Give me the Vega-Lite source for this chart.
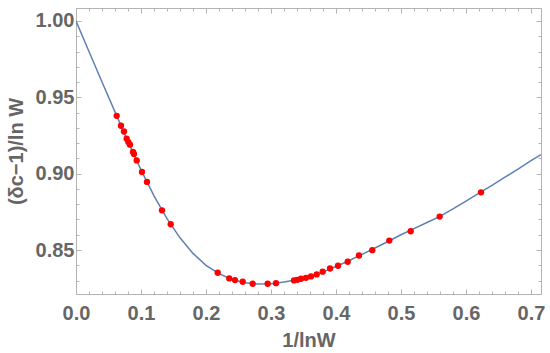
{
  "$schema": "https://vega.github.io/schema/vega-lite/v6.json",
  "width": 465,
  "height": 286,
  "autosize": {"type": "none"},
  "padding": {"left": 76, "top": 8, "right": 9, "bottom": 59},
  "background": "white",
  "config": {
    "view": {"stroke": null},
    "axis": {
      "labelFont": "Liberation Sans",
      "labelFontWeight": "bold",
      "labelFontSize": 20,
      "labelColor": "#666666",
      "titleFont": "Liberation Sans",
      "titleFontWeight": "bold",
      "titleFontSize": 20,
      "titleColor": "#666666",
      "domainColor": "#b4b4b4",
      "tickColor": "#b4b4b4",
      "grid": false
    }
  },
  "datasets": {
    "curve": [
      {"x": 0.0, "y": 1.0},
      {"x": 0.02, "y": 0.98},
      {"x": 0.04, "y": 0.96},
      {"x": 0.06, "y": 0.9405},
      {"x": 0.08, "y": 0.921},
      {"x": 0.1, "y": 0.9025},
      {"x": 0.12, "y": 0.8855},
      {"x": 0.14, "y": 0.8705},
      {"x": 0.16, "y": 0.858},
      {"x": 0.18, "y": 0.8478},
      {"x": 0.2, "y": 0.84},
      {"x": 0.22, "y": 0.8345},
      {"x": 0.24, "y": 0.8307},
      {"x": 0.26, "y": 0.8286},
      {"x": 0.28, "y": 0.8277},
      {"x": 0.3, "y": 0.8279},
      {"x": 0.32, "y": 0.829},
      {"x": 0.34, "y": 0.8305},
      {"x": 0.36, "y": 0.8326},
      {"x": 0.38, "y": 0.8355},
      {"x": 0.4, "y": 0.8392},
      {"x": 0.42, "y": 0.843},
      {"x": 0.44, "y": 0.8472},
      {"x": 0.46, "y": 0.8513},
      {"x": 0.48, "y": 0.8556},
      {"x": 0.5, "y": 0.86},
      {"x": 0.52, "y": 0.864},
      {"x": 0.54, "y": 0.868},
      {"x": 0.56, "y": 0.872},
      {"x": 0.58, "y": 0.877},
      {"x": 0.6, "y": 0.882},
      {"x": 0.62, "y": 0.8872},
      {"x": 0.64, "y": 0.8924},
      {"x": 0.66, "y": 0.8977},
      {"x": 0.68, "y": 0.903},
      {"x": 0.7, "y": 0.9085},
      {"x": 0.7154, "y": 0.9124}
    ],
    "dots": [
      {"x": 0.0626, "y": 0.9379},
      {"x": 0.0692, "y": 0.9314},
      {"x": 0.0738, "y": 0.9276},
      {"x": 0.078, "y": 0.9229},
      {"x": 0.0805, "y": 0.9207},
      {"x": 0.0831, "y": 0.919},
      {"x": 0.0877, "y": 0.9142},
      {"x": 0.0892, "y": 0.9129},
      {"x": 0.0934, "y": 0.9087},
      {"x": 0.1015, "y": 0.9011},
      {"x": 0.1092, "y": 0.8946},
      {"x": 0.1323, "y": 0.876},
      {"x": 0.1457, "y": 0.8669},
      {"x": 0.218, "y": 0.8351},
      {"x": 0.2358, "y": 0.8314},
      {"x": 0.2446, "y": 0.8303},
      {"x": 0.2565, "y": 0.8292},
      {"x": 0.2718, "y": 0.8279},
      {"x": 0.2949, "y": 0.8279},
      {"x": 0.3077, "y": 0.8283},
      {"x": 0.3354, "y": 0.8301},
      {"x": 0.3405, "y": 0.8305},
      {"x": 0.3462, "y": 0.8312},
      {"x": 0.3538, "y": 0.8318},
      {"x": 0.3615, "y": 0.8327},
      {"x": 0.3703, "y": 0.834},
      {"x": 0.3795, "y": 0.8358},
      {"x": 0.3908, "y": 0.8379},
      {"x": 0.4031, "y": 0.8397},
      {"x": 0.418, "y": 0.8423},
      {"x": 0.4354, "y": 0.8464},
      {"x": 0.4558, "y": 0.8499},
      {"x": 0.482, "y": 0.8562},
      {"x": 0.5149, "y": 0.8623},
      {"x": 0.5595, "y": 0.8719},
      {"x": 0.6231, "y": 0.8878}
    ]
  },
  "layer": [
    {
      "data": {"name": "curve"},
      "mark": {"type": "line", "color": "#5E81B5", "strokeWidth": 1.5, "clip": true},
      "encoding": {
        "x": {
          "field": "x", "type": "quantitative",
          "scale": {"domain": [0, 0.7154], "nice": false, "zero": false},
          "axis": {
            "orient": "bottom",
            "title": "1/lnW",
            "titleX": 232.5,
            "titleY": 46,
            "titleBaseline": "middle",
            "titleAlign": "center",
            "values": [0,0.02,0.04,0.06,0.08,0.1,0.12,0.14,0.16,0.18,0.2,0.22,0.24,0.26,0.28,0.3,0.32,0.34,0.36,0.38,0.4,0.42,0.44,0.46,0.48,0.5,0.52,0.54,0.56,0.58,0.6,0.62,0.64,0.66,0.68,0.7],
            "labelExpr": "abs(datum.value*10-round(datum.value*10))<0.001 ? format(datum.value,'.1f') : ''",
            "tickSize": {"condition": {"test": "abs(datum.value*10-round(datum.value*10))>0.001", "value": -3}, "value": -5},
            "labelPadding": 14,
            "labelFlush": false,
            "labelOverlap": false
          }
        },
        "y": {
          "field": "y", "type": "quantitative",
          "scale": {"domain": [0.8212, 1.0085], "nice": false, "zero": false},
          "axis": {
            "orient": "left",
            "title": "(δc−1)/ln W",
            "titleX": -60,
            "titleY": 143,
            "titleAngle": -90,
            "titleBaseline": "middle",
            "titleAlign": "center",
            "values": [0.83,0.84,0.85,0.86,0.87,0.88,0.89,0.9,0.91,0.92,0.93,0.94,0.95,0.96,0.97,0.98,0.99,1.0],
            "labelExpr": "abs(datum.value*20-round(datum.value*20))<0.001 ? format(datum.value,'.2f') : ''",
            "tickSize": {"condition": {"test": "abs(datum.value*20-round(datum.value*20))>0.001", "value": -3}, "value": -5},
            "labelPadding": 7,
            "labelFlush": false,
            "labelOverlap": false
          }
        }
      }
    },
    {
      "data": {"name": "dots"},
      "mark": {"type": "circle", "color": "#FF0000", "opacity": 1, "size": 40},
      "encoding": {
        "x": {
          "field": "x", "type": "quantitative",
          "axis": {
            "orient": "top",
            "title": null,
            "labels": false,
            "values": [0,0.02,0.04,0.06,0.08,0.1,0.12,0.14,0.16,0.18,0.2,0.22,0.24,0.26,0.28,0.3,0.32,0.34,0.36,0.38,0.4,0.42,0.44,0.46,0.48,0.5,0.52,0.54,0.56,0.58,0.6,0.62,0.64,0.66,0.68,0.7],
            "tickSize": {"condition": {"test": "abs(datum.value*10-round(datum.value*10))>0.001", "value": -3}, "value": -5}
          }
        },
        "y": {
          "field": "y", "type": "quantitative",
          "axis": {
            "orient": "right",
            "title": null,
            "labels": false,
            "values": [0.83,0.84,0.85,0.86,0.87,0.88,0.89,0.9,0.91,0.92,0.93,0.94,0.95,0.96,0.97,0.98,0.99,1.0],
            "tickSize": {"condition": {"test": "abs(datum.value*20-round(datum.value*20))>0.001", "value": -3}, "value": -5}
          }
        }
      }
    }
  ],
  "resolve": {"axis": {"x": "independent", "y": "independent"}}
}
